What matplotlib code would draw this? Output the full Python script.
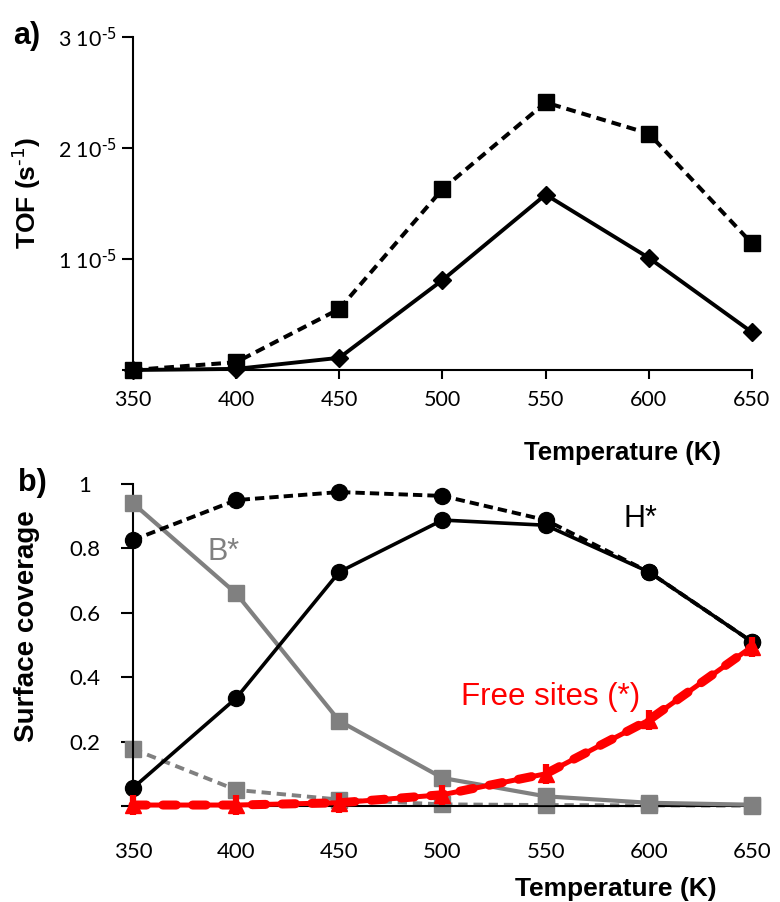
import matplotlib
matplotlib.use("Agg")
import matplotlib.pyplot as plt
from matplotlib.ticker import FixedLocator, FixedFormatter

plt.rcParams['font.family'] = ['Lato', 'DejaVu Sans']
plt.rcParams['mathtext.default'] = 'regular'

# Temperatures (K)
temps = [350, 400, 450, 500, 550, 600, 650]

# Panel a: turnover frequency (s^-1)
tof_dashed = [0.0, 0.07e-5, 0.55e-5, 1.63e-5, 2.41e-5, 2.13e-5, 1.14e-5]
tof_solid = [0.0, 0.01e-5, 0.11e-5, 0.81e-5, 1.58e-5, 1.01e-5, 0.34e-5]
tof_ticks = [0.0, 1e-5, 2e-5, 3e-5]
tof_ticklabels = ['', r'1 10$^{\text{-5}}$', r'2 10$^{\text{-5}}$',
                  r'3 10$^{\text{-5}}$']

# Panel b: surface coverages
h_dashed = [0.826, 0.950, 0.975, 0.963, 0.888, 0.727, 0.510]
h_solid = [0.056, 0.335, 0.727, 0.888, 0.872, 0.727, 0.510]
b_solid = [0.940, 0.660, 0.264, 0.087, 0.030, 0.010, 0.004]
b_dashed = [0.177, 0.050, 0.020, 0.005, 0.003, 0.002, 0.001]
free_sites = [0.003, 0.003, 0.010, 0.035, 0.100, 0.267, 0.495]
cov_ticks = [0.0, 0.2, 0.4, 0.6, 0.8, 1.0]
cov_ticklabels = ['', '0.2', '0.4', '0.6', '0.8', '1']

GRAY = '#808080'
RED = '#ff0000'

fig = plt.figure(figsize=(7.8, 9.02), dpi=100)

W = 780.0
H = 902.0
left = 133 / W
width = (752 - 133) / W

# ---------------- panel a ----------------
ax1 = fig.add_axes([left, 1 - 370 / H, width, (370 - 37) / H])
ax1.plot(temps, tof_dashed, color='black', lw=2.9, linestyle=(0, (2.4, 1.5)),
         marker='s', ms=11, mfc='black', mec='black', clip_on=False, zorder=3)
ax1.plot(temps, tof_solid, color='black', lw=2.8, marker='D', ms=9,
         mfc='black', mec='black', clip_on=False, zorder=4)
ax1.set_xlim(350, 650)
ax1.set_ylim(0, 3e-5)
ax1.yaxis.set_major_locator(FixedLocator(tof_ticks))
ax1.yaxis.set_major_formatter(FixedFormatter(tof_ticklabels))
ax1.set_xticks(temps)
ax1.set_xticklabels([str(t) for t in temps])
for s in ('top', 'right'):
    ax1.spines[s].set_visible(False)
for s in ('left', 'bottom'):
    ax1.spines[s].set_linewidth(1.5)
ax1.tick_params(axis='y', direction='out', length=8, width=1.5, pad=4,
                labelsize=15.5)
ax1.tick_params(axis='x', direction='out', length=6.5, width=1.5, pad=8,
                labelsize=15.5)

fig.text(27 / W, 1 - 193 / H, r'TOF (s$^{\text{-1}}$)', rotation=90,
         ha='center', va='center', fontsize=19, fontweight='bold',
         family='Liberation Sans')
fig.text(622 / W, 1 - 453 / H, 'Temperature (K)', ha='center', va='center',
         fontsize=18.5, fontweight='bold', family='Liberation Sans')
fig.text(27 / W, 1 - 36 / H, 'a)', ha='center', va='center', fontsize=22,
         fontweight='bold', family='Liberation Sans')

# ---------------- panel b ----------------
ax2 = fig.add_axes([left, 1 - 806 / H, width, (806 - 484) / H])
ax2.plot(temps, b_dashed, color=GRAY, lw=2.8, linestyle=(0, (2.4, 1.5)),
         marker='s', ms=11.5, mfc=GRAY, mec=GRAY, clip_on=False, zorder=2)
ax2.plot(temps, b_solid, color=GRAY, lw=3, marker='s', ms=11.5,
         mfc=GRAY, mec=GRAY, clip_on=False, zorder=3)
ax2.plot(temps, h_dashed, color='black', lw=2.8, linestyle=(0, (2.4, 1.3)),
         marker='o', ms=11.5, mfc='black', mec='black', clip_on=False, zorder=4)
ax2.plot(temps, h_solid, color='black', lw=2.6, marker='o', ms=11.5,
         mfc='black', mec='black', clip_on=False, zorder=5)
ax2.plot(temps, free_sites, color=RED, lw=3.6, marker='^', ms=12,
         mfc=RED, mec=RED, clip_on=False, zorder=6)
ax2.plot(temps, free_sites, color=RED, lw=6.5, linestyle=(0, (1.5, 1.8)),
         dash_capstyle='round', marker='|', ms=14, mew=4.5, mec=RED,
         clip_on=False, zorder=7)
ax2.set_xlim(350, 650)
ax2.set_ylim(0, 1)
ax2.yaxis.set_major_locator(FixedLocator(cov_ticks))
ax2.yaxis.set_major_formatter(FixedFormatter(cov_ticklabels))
ax2.set_xticks(temps)
ax2.set_xticklabels([str(t) for t in temps])
for s in ('top', 'right'):
    ax2.spines[s].set_visible(False)
for s in ('left', 'bottom'):
    ax2.spines[s].set_linewidth(1.5)
ax2.tick_params(axis='y', direction='out', length=8.5, width=1.5, pad=26,
                labelsize=16)
for lab in ax2.get_yticklabels():
    lab.set_horizontalalignment('center')
ax2.tick_params(axis='x', direction='out', length=5, width=1.5, pad=21,
                labelsize=16)

ax2.text(394, 0.789, 'B*', color=GRAY, fontsize=22, ha='center', va='center',
         family='Liberation Sans')
ax2.text(596, 0.891, 'H*', color='black', fontsize=22, ha='center',
         va='center', family='Liberation Sans')
ax2.text(552.5, 0.338, 'Free sites (*)', color=RED, fontsize=22.5,
         ha='center', va='center', family='Liberation Sans')

fig.text(27 / W, 1 - 626 / H, 'Surface coverage', rotation=90, ha='center',
         va='center', fontsize=20, fontweight='bold',
         family='Liberation Sans')
fig.text(616 / W, 1 - 889 / H, 'Temperature (K)', ha='center', va='center',
         fontsize=19, fontweight='bold', family='Liberation Sans')
fig.text(32 / W, 1 - 483 / H, 'b)', ha='center', va='center', fontsize=22,
         fontweight='bold', family='Liberation Sans')

fig.savefig('out.png', dpi=100)
